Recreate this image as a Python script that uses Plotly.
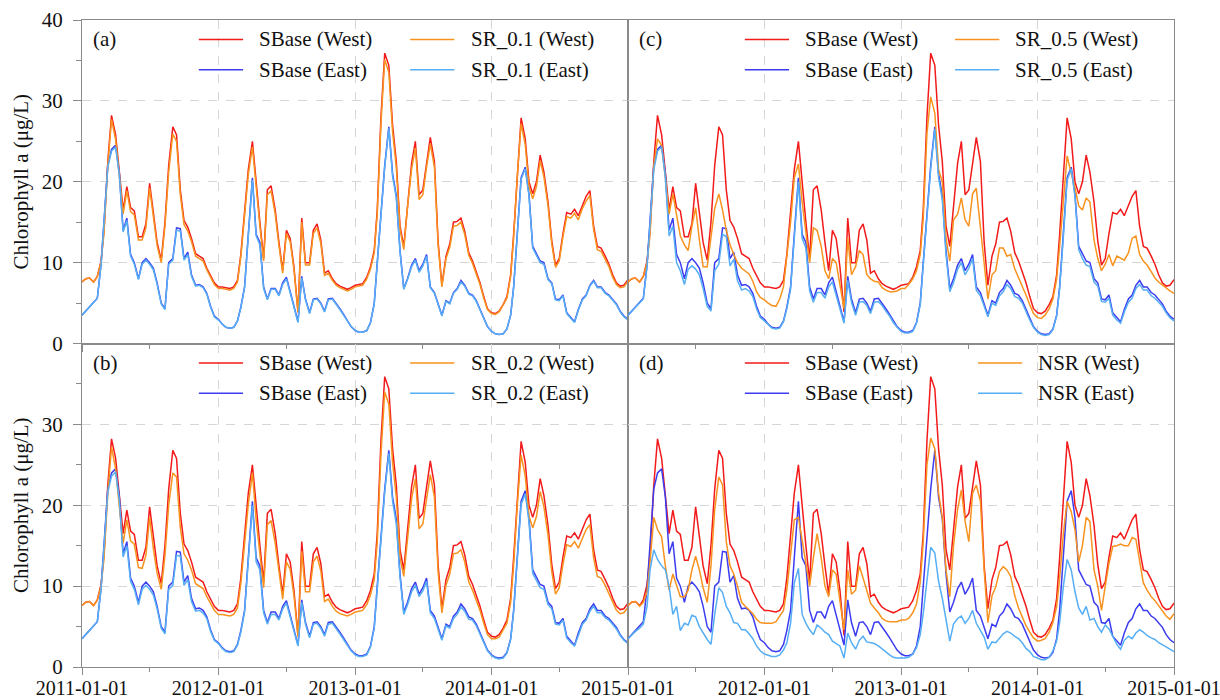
import plotly.graph_objects as go
from plotly.subplots import make_subplots

# sample dates: 1st, 11th, 21st of each month
dates = [f"{y}-{m:02d}-{d:02d}" for y in range(2011, 2015) for m in range(1, 13) for d in (1, 11, 21)] + ["2015-01-01"]

sbase_west = [
    7.6, 8.0, 8.1, 7.6, 8.3, 10.2, 14.0, 22.5, 28.2, 25.8, 21.2, 16.5,
    19.4, 16.8, 16.4, 13.2, 13.2, 14.8, 19.8, 15.8, 12.5, 10.3, 15.0, 22.0,
    26.8, 25.8, 19.0, 15.2, 14.4, 13.0, 11.1, 10.8, 10.5, 9.3, 8.3, 7.5,
    7.0, 7.0, 6.9, 6.8, 7.0, 7.8, 11.0, 16.0, 21.5, 25.0, 19.5, 15.0,
    10.5, 19.0, 19.5, 16.5, 12.5, 9.0, 14.0, 13.0, 9.5, 3.9, 15.5, 10.0,
    10.0, 14.0, 14.8, 12.8, 8.7, 9.0, 8.0, 7.4, 7.1, 6.9, 6.7, 6.9,
    7.2, 7.3, 7.4, 8.2, 9.5, 11.5, 16.5, 28.0, 35.9, 34.4, 27.0, 22.5,
    14.5, 12.0, 17.4, 22.3, 25.0, 18.4, 19.0, 22.5, 25.5, 22.5, 12.5, 7.2,
    10.8, 12.3, 15.0, 15.1, 15.5, 13.9, 11.2, 10.2, 8.9, 7.5, 5.8, 4.3,
    3.8, 3.7, 4.0, 4.8, 5.8, 8.5, 13.5, 21.5, 27.9, 25.3, 20.0, 18.5,
    20.0, 23.3, 21.2, 17.5, 12.7, 9.7, 10.5, 13.6, 16.2, 16.0, 16.6, 15.8,
    17.2, 18.2, 18.9, 14.5, 12.0, 11.8, 10.8, 9.8, 8.5, 7.5, 7.1, 7.2,
    7.9]

sbase_east = [
    3.5, 4.0, 4.5, 5.0, 5.6, 9.8, 15.0, 22.0, 24.0, 24.5, 21.0, 14.0,
    15.5, 11.0, 10.0, 8.0, 10.0, 10.5, 10.0, 9.3, 7.5, 5.0, 4.3, 10.0,
    10.5, 14.3, 14.2, 10.5, 11.3, 8.5, 7.2, 7.3, 7.0, 6.2, 4.6, 3.4,
    3.0, 2.4, 2.0, 1.9, 2.0, 2.8, 4.5, 7.0, 13.5, 20.5, 13.5, 12.5,
    7.0, 5.5, 6.8, 6.8, 6.0, 7.5, 8.2, 6.4, 4.4, 2.7, 8.3, 5.5,
    3.8, 5.5, 5.6, 5.0, 4.0, 5.5, 5.6, 5.0, 4.3, 3.6, 2.8, 2.1,
    1.6, 1.4, 1.4, 1.6, 2.6, 5.0, 10.0, 16.0, 22.0, 26.8, 21.0, 18.3,
    11.5, 6.8, 8.0, 9.7, 10.5, 9.0, 9.8, 11.0, 7.0, 6.3, 4.8, 3.5,
    5.3, 5.0, 6.3, 6.8, 7.8, 7.2, 6.2, 6.0, 5.3, 4.2, 3.1, 2.1,
    1.5, 1.2, 1.1, 1.2, 1.8, 3.5, 7.0, 13.5, 20.5, 21.8, 18.5, 12.0,
    11.0, 10.2, 10.0, 8.0, 7.5, 5.5, 5.4, 6.0, 3.8, 3.2, 2.7, 4.2,
    5.5, 6.0, 7.2, 7.8, 7.0, 7.0, 6.3, 6.0, 5.4, 4.9, 4.0, 3.4,
    3.0]

sr01_west = [
    7.6, 8.0, 8.1, 7.6, 8.3, 10.1, 13.8, 22.0, 27.7, 25.2, 20.7, 16.0,
    18.9, 16.3, 15.9, 12.8, 12.8, 14.3, 19.2, 15.3, 12.1, 10.0, 14.5, 21.2,
    25.9, 25.0, 18.4, 14.7, 13.9, 12.6, 10.8, 10.5, 10.2, 9.1, 8.1, 7.3,
    6.8, 6.8, 6.7, 6.6, 6.8, 7.6, 10.7, 15.5, 20.9, 24.3, 18.9, 14.5,
    10.2, 18.4, 18.9, 16.0, 12.1, 8.7, 13.6, 12.6, 9.2, 3.8, 15.0, 9.7,
    9.7, 13.6, 14.3, 12.4, 8.4, 8.7, 7.8, 7.2, 6.9, 6.7, 6.5, 6.7,
    7.0, 7.1, 7.2, 8.0, 9.2, 11.2, 16.0, 27.2, 35.1, 33.5, 26.2, 21.8,
    14.1, 11.6, 16.9, 21.6, 24.2, 17.8, 18.4, 21.8, 24.7, 21.8, 12.1, 7.0,
    10.5, 11.9, 14.5, 14.6, 15.0, 13.5, 10.9, 9.9, 8.6, 7.3, 5.6, 4.2,
    3.7, 3.6, 3.9, 4.7, 5.6, 8.3, 13.1, 20.9, 27.2, 24.6, 19.4, 17.9,
    19.4, 22.6, 20.6, 17.0, 12.3, 9.4, 10.2, 13.2, 15.7, 15.5, 16.1, 15.3,
    16.7, 17.6, 18.3, 14.1, 11.6, 11.4, 10.5, 9.5, 8.2, 7.3, 6.9, 7.0,
    7.7]

sr01_east = [
    3.5, 4.0, 4.5, 5.0, 5.6, 9.7, 14.9, 21.8, 23.8, 24.3, 20.8, 13.8,
    15.2, 10.8, 9.8, 7.9, 9.8, 10.3, 9.8, 9.1, 7.3, 4.9, 4.2, 9.8,
    10.3, 14.0, 13.9, 10.3, 11.0, 8.3, 7.1, 7.2, 6.9, 6.1, 4.5, 3.3,
    2.9, 2.4, 2.0, 1.9, 2.0, 2.8, 4.4, 6.9, 13.3, 20.2, 13.3, 12.2,
    6.8, 5.4, 6.7, 6.7, 5.9, 7.3, 8.0, 6.3, 4.3, 2.6, 8.1, 5.4,
    3.7, 5.4, 5.5, 4.9, 3.9, 5.4, 5.5, 4.9, 4.2, 3.5, 2.8, 2.1,
    1.6, 1.4, 1.4, 1.6, 2.6, 4.9, 9.9, 15.8, 21.8, 26.6, 20.7, 18.0,
    11.3, 6.7, 7.9, 9.5, 10.3, 8.8, 9.6, 10.8, 6.9, 6.2, 4.7, 3.4,
    5.2, 4.9, 6.2, 6.7, 7.6, 7.1, 6.1, 5.9, 5.2, 4.1, 3.0, 2.1,
    1.5, 1.2, 1.1, 1.2, 1.8, 3.5, 6.9, 13.3, 20.3, 21.6, 18.3, 11.8,
    10.8, 10.0, 9.8, 7.9, 7.4, 5.4, 5.3, 5.9, 3.7, 3.1, 2.6, 4.1,
    5.4, 5.9, 7.1, 7.7, 6.9, 6.9, 6.2, 5.9, 5.3, 4.8, 3.9, 3.3,
    2.9]

sr02_west = [
    7.6, 8.0, 8.1, 7.6, 8.3, 10.0, 13.5, 21.4, 27.2, 24.5, 19.8, 15.3,
    18.2, 15.6, 15.2, 12.3, 12.2, 13.8, 18.5, 14.6, 11.6, 9.6, 13.8, 20.0,
    24.0, 23.5, 17.3, 14.0, 13.2, 12.0, 10.3, 10.0, 9.7, 8.7, 7.8, 7.0,
    6.5, 6.5, 6.4, 6.3, 6.5, 7.3, 10.3, 15.0, 20.1, 24.0, 18.2, 14.0,
    9.8, 17.6, 18.1, 15.3, 11.6, 8.4, 13.0, 12.1, 8.9, 3.7, 14.3, 9.3,
    9.3, 13.0, 13.7, 11.9, 8.1, 8.4, 7.5, 6.9, 6.6, 6.4, 6.3, 6.5,
    6.8, 6.9, 7.0, 7.7, 8.9, 10.8, 15.4, 26.3, 34.0, 32.5, 25.3, 21.0,
    13.5, 11.2, 16.2, 20.8, 23.3, 17.1, 17.7, 21.0, 23.8, 21.0, 11.7, 6.7,
    10.1, 11.5, 14.0, 14.1, 14.5, 13.0, 10.5, 9.5, 8.3, 7.0, 5.4, 4.0,
    3.5, 3.5, 3.7, 4.5, 5.4, 8.0, 12.6, 20.2, 26.2, 23.6, 18.7, 17.2,
    18.6, 21.7, 19.8, 16.3, 11.8, 9.0, 9.8, 12.7, 15.1, 14.9, 15.5, 14.7,
    16.0, 17.0, 17.6, 13.5, 11.2, 11.0, 10.1, 9.1, 7.9, 7.0, 6.6, 6.7,
    7.4]

sr02_east = [
    3.5, 4.0, 4.5, 5.0, 5.6, 9.6, 14.7, 21.6, 23.6, 24.1, 20.6, 13.6,
    15.0, 10.6, 9.6, 7.7, 9.6, 10.1, 9.6, 8.9, 7.2, 4.8, 4.1, 9.6,
    10.1, 13.8, 13.7, 10.1, 10.8, 8.1, 6.9, 7.0, 6.7, 6.0, 4.4, 3.3,
    2.9, 2.3, 1.9, 1.8, 1.9, 2.7, 4.3, 6.8, 13.1, 20.0, 13.0, 12.0,
    6.7, 5.3, 6.5, 6.5, 5.8, 7.2, 7.9, 6.2, 4.2, 2.6, 8.0, 5.3,
    3.6, 5.3, 5.4, 4.8, 3.8, 5.3, 5.4, 4.8, 4.1, 3.4, 2.7, 2.0,
    1.5, 1.3, 1.3, 1.5, 2.5, 4.8, 9.7, 15.6, 21.6, 26.4, 20.5, 17.7,
    11.1, 6.5, 7.7, 9.3, 10.1, 8.7, 9.4, 10.6, 6.7, 6.0, 4.6, 3.3,
    5.1, 4.8, 6.0, 6.5, 7.4, 6.9, 5.9, 5.8, 5.1, 4.0, 3.0, 2.0,
    1.4, 1.1, 1.0, 1.1, 1.7, 3.4, 6.8, 13.1, 20.1, 21.4, 18.0, 11.6,
    10.6, 9.8, 9.6, 7.7, 7.2, 5.3, 5.2, 5.8, 3.6, 3.0, 2.6, 4.0,
    5.3, 5.8, 6.9, 7.5, 6.7, 6.7, 6.1, 5.8, 5.2, 4.7, 3.9, 3.3,
    2.9]

sr05_west = [
    7.6, 8.0, 8.1, 7.6, 8.3, 10.0, 13.5, 22.0, 25.3, 24.5, 20.5, 16.0,
    18.5, 16.0, 13.3, 12.2, 11.5, 14.5, 16.8, 12.8, 9.5, 9.5, 13.5, 16.7,
    18.5, 16.5, 14.0, 12.2, 11.0, 10.0, 9.3, 9.0, 8.6, 7.7, 6.4, 5.7,
    5.4, 5.0, 4.7, 4.6, 5.5, 7.0, 10.8, 15.0, 20.5, 22.2, 17.5, 14.0,
    10.0, 14.3, 14.0, 12.0, 9.0, 8.0, 10.5, 10.0, 7.5, 4.3, 13.0, 8.5,
    9.5, 11.5, 11.0, 8.5, 8.0, 7.7, 7.6, 6.9, 6.6, 6.4, 6.4, 6.5,
    6.8, 6.8, 7.3, 8.0, 9.0, 11.0, 15.5, 26.0, 30.5, 28.5, 21.5, 20.0,
    13.0, 10.2, 15.3, 16.0, 18.0, 15.3, 14.5, 18.5, 19.2, 14.3, 9.5, 5.5,
    8.5, 9.0, 11.8, 11.8, 10.8, 11.0, 9.2, 8.2, 7.2, 6.0, 4.8, 3.7,
    3.2, 3.1, 3.5, 4.3, 5.5, 8.0, 12.0, 17.5, 23.2, 21.0, 19.3, 17.0,
    16.5, 18.0, 17.5, 12.8, 10.5, 9.0, 9.8, 11.0, 9.6, 10.8, 10.5, 10.3,
    11.2, 13.0, 13.3, 11.0, 10.2, 9.7, 8.9, 8.1, 7.6, 7.2, 6.8, 6.5,
    6.2]

sr05_east = [
    3.5, 4.0, 4.5, 5.0, 5.5, 9.5, 14.6, 21.5, 23.8, 24.3, 20.5, 13.3,
    14.5, 10.0, 9.0, 7.3, 9.2, 9.6, 9.2, 8.5, 6.8, 4.6, 4.0, 9.0,
    9.8, 13.5, 13.2, 9.6, 10.4, 7.8, 6.6, 6.8, 6.5, 5.8, 4.3, 3.2,
    2.8, 2.3, 1.9, 1.8, 1.9, 2.7, 4.3, 6.7, 13.0, 20.0, 13.0, 11.8,
    6.5, 5.1, 6.3, 6.3, 5.6, 7.0, 7.6, 6.0, 4.1, 2.5, 7.8, 5.1,
    3.5, 5.1, 5.2, 4.7, 3.7, 5.1, 5.2, 4.7, 4.0, 3.4, 2.6, 2.0,
    1.5, 1.3, 1.3, 1.5, 2.5, 4.8, 9.7, 15.6, 21.6, 26.5, 20.5, 17.8,
    11.0, 6.4, 7.5, 9.2, 10.0, 8.5, 9.3, 10.5, 6.6, 5.9, 4.5, 3.3,
    5.0, 4.7, 5.9, 6.4, 7.3, 6.8, 5.8, 5.6, 5.0, 3.9, 2.9, 2.0,
    1.4, 1.1, 1.0, 1.1, 1.7, 3.4, 6.8, 13.2, 20.2, 21.6, 18.2, 11.6,
    10.5, 9.7, 9.5, 7.6, 7.1, 5.2, 5.1, 5.6, 3.5, 2.9, 2.5, 3.9,
    5.1, 5.6, 6.8, 7.3, 6.6, 6.6, 5.9, 5.6, 5.1, 4.6, 3.8, 3.2,
    2.8]

nsr_west = [
    7.6, 8.0, 8.1, 7.5, 8.0, 9.3, 13.0, 18.5, 17.0, 16.1, 12.5, 9.5,
    11.5, 10.0, 8.7, 8.7, 9.5, 12.0, 13.7, 12.0, 9.8, 8.0, 12.5, 19.5,
    23.5, 22.5, 15.5, 12.5, 11.5, 10.0, 8.0, 7.5, 7.0, 6.6, 5.9, 5.5,
    5.4, 5.4, 5.4, 5.6, 6.3, 7.0, 9.5, 13.5, 18.2, 18.5, 15.5, 12.5,
    10.0, 13.5, 16.5, 13.5, 10.0, 8.7, 12.0, 11.5, 8.5, 4.6, 12.0, 9.0,
    9.5, 12.5, 11.0, 9.5, 7.9, 7.3, 6.7, 6.0, 5.7, 5.6, 5.6, 5.6,
    5.8, 5.8, 6.0, 6.7, 7.8, 10.5, 15.5, 25.0, 28.3, 27.0, 21.5, 18.5,
    12.0, 8.7, 15.0, 19.5, 21.9, 18.0, 15.5, 21.5, 22.5, 20.5, 12.0, 5.5,
    8.8, 9.9, 11.8, 12.4, 12.0, 11.2, 8.8, 7.3, 6.2, 5.1, 4.3, 3.6,
    3.2, 3.3, 3.5, 4.3, 5.5, 7.5, 11.0, 16.5, 20.5, 19.2, 17.0, 13.0,
    15.0, 18.5, 18.0, 12.0, 10.0, 7.0, 10.0, 12.8, 14.9, 15.0, 15.2, 15.0,
    15.0, 16.0, 15.8, 12.8, 10.4, 9.5, 8.7, 8.2, 7.6, 7.0, 6.3, 5.9,
    6.6]

nsr_east = [
    3.5, 4.0, 4.4, 4.8, 5.3, 7.5, 12.0, 14.5, 13.3, 12.5, 12.0, 10.0,
    6.5, 7.5, 4.5, 5.4, 5.2, 6.4, 6.2, 5.0, 4.2, 3.4, 2.8, 6.5,
    9.8, 9.2, 7.5, 6.7, 5.5, 5.4, 4.6, 4.6, 4.1, 3.5, 2.6, 2.0,
    1.6, 1.4, 1.3, 1.3, 1.5, 2.1, 3.0, 5.4, 10.4, 12.2, 6.5, 5.4,
    4.6, 4.0, 5.2, 4.8, 4.3, 4.0, 3.2, 2.9, 2.6, 1.1, 4.2, 3.0,
    2.2, 3.3, 3.8, 3.1, 3.0, 2.9, 2.6, 2.2, 1.8, 1.5, 1.2, 1.1,
    1.1, 1.1, 1.2, 1.6, 2.4, 4.0, 6.6, 10.8, 14.8, 14.1, 10.6, 8.5,
    5.6, 3.2, 5.3, 6.0, 6.3, 5.4, 6.0, 7.0, 5.4, 4.6, 3.7, 2.2,
    3.1, 3.0, 3.6, 4.1, 4.4, 4.2, 3.8, 3.5, 3.0, 2.3, 1.9, 1.3,
    1.1, 0.9, 0.9, 1.2, 2.0, 3.2, 5.5, 10.0, 13.3, 12.0, 9.3, 7.3,
    6.5, 7.5, 5.8, 6.0, 5.0, 4.3, 5.2, 4.7, 3.8, 2.8, 2.2, 3.3,
    3.8, 3.5, 4.2, 4.6, 4.3, 3.9, 3.6, 3.4, 3.0, 2.8, 2.5, 2.2,
    1.9]

year_ticks = ["2011-01-01", "2012-01-01", "2013-01-01", "2014-01-01", "2015-01-01"]
half_ticks = ["2011-07-01", "2012-07-01", "2013-07-01", "2014-07-01"]
y_ticks_top = [0, 10, 20, 30, 40]
y_ticks_bottom = [0, 10, 20, 30]

FONT = "Liberation Serif"
TXT = "#111111"
C_W_BASE = "#f21a1a"
C_E_BASE = "#3c3cf0"
C_W_SCN = "#f7931e"
C_E_SCN = "#56aef5"
FRAME = "#8a8a8a"
GRID = "#d6d6d6"

fig = make_subplots(rows=2, cols=2, horizontal_spacing=0, vertical_spacing=0)

# (row, col, axis index, panel label, scenario name, west, east, legend col-2 x)
panels = [
    (1, 1, 1, "(a)", "SR_0.1", sr01_west, sr01_east, 0.601),
    (2, 1, 3, "(b)", "SR_0.2", sr02_west, sr02_east, 0.601),
    (1, 2, 2, "(c)", "SR_0.5", sr05_west, sr05_east, 0.599),
    (2, 2, 4, "(d)", "NSR", nsr_west, nsr_east, 0.641),
]

shapes = []
annotations = []
for row, col, idx, label, scn, west, east, lx2 in panels:
    series = [
        ("SBase (West)", sbase_west, C_W_BASE),
        ("SBase (East)", sbase_east, C_E_BASE),
        (f"{scn} (West)", west, C_W_SCN),
        (f"{scn} (East)", east, C_E_SCN),
    ]
    for name, vals, color in series:
        fig.add_trace(go.Scatter(x=dates, y=vals, mode="lines", name=name,
                                 line=dict(color=color, width=1.5),
                                 showlegend=False), row=row, col=col)
    xr = "x domain" if idx == 1 else f"x{idx} domain"
    yr = "y domain" if idx == 1 else f"y{idx} domain"
    rows_y = [0.94, 0.846]
    pos = [(0.214, rows_y[0]), (0.214, rows_y[1]), (lx2, rows_y[0]), (lx2, rows_y[1])]
    for (name, _, color), (lx, ly) in zip(series, pos):
        shapes.append(dict(type="line", xref=xr, yref=yr, x0=lx, x1=lx + 0.081,
                           y0=ly, y1=ly, line=dict(color=color, width=1.5)))
        annotations.append(dict(xref=xr, yref=yr, x=lx + 0.107, y=ly, text=name,
                                showarrow=False, xanchor="left", yanchor="middle",
                                font=dict(family=FONT, size=21, color=TXT)))
    annotations.append(dict(xref=xr, yref=yr, x=0.016, y=rows_y[0], text=label,
                            showarrow=False, xanchor="left", yanchor="middle",
                            font=dict(family=FONT, size=21, color=TXT)))

common_x = dict(type="date", range=["2011-01-01", "2015-01-01"], automargin=False,
                showline=True, mirror=True, linecolor=FRAME, linewidth=1.2,
                showgrid=True, gridcolor=GRID, griddash="dash", gridwidth=1,
                ticks="outside", ticklen=7, tickcolor=FRAME, tickwidth=1.2,
                tickformat="%Y-%m-%d", zeroline=False, ticklabelstandoff=-4,
                ticklabeloverflow="allow",
                tickfont=dict(family=FONT, size=20, color=TXT),
                minor=dict(tickvals=half_ticks, ticks="outside", ticklen=4,
                           tickcolor=FRAME, showgrid=False))
common_y = dict(range=[0, 40], showline=True, mirror=True, linecolor=FRAME,
                linewidth=1.2, showgrid=True, gridcolor=GRID, griddash="dash",
                gridwidth=1, zeroline=False, automargin=False,
                tickfont=dict(family=FONT, size=21, color=TXT))

for row, col, idx, *_ in panels:
    xa = dict(common_x)
    ya = dict(common_y)
    if row == 1:
        xa.update(tickvals=year_ticks, showticklabels=False)
    elif col == 1:
        xa.update(tickvals=year_ticks, showticklabels=True)
    else:
        xa.update(tickvals=year_ticks[1:], showticklabels=True)
    ya.update(tickvals=y_ticks_top if row == 1 else y_ticks_bottom)
    if col == 1:
        ya.update(ticks="outside", ticklen=8, tickcolor=FRAME, tickwidth=1.2,
                  showticklabels=True, ticklabelstandoff=6,
                  minor=dict(dtick=5, ticks="outside", ticklen=5, tickcolor=FRAME),
                  title=dict(text="Chlorophyll a (μg/L)", standoff=7,
                             font=dict(family=FONT, size=21, color=TXT)))
    else:
        ya.update(ticks="", showticklabels=False)
    fig.update_xaxes(xa, row=row, col=col)
    fig.update_yaxes(ya, row=row, col=col)

fig.update_layout(width=1220, height=700,
                  margin=dict(l=82, r=46, t=20, b=33),
                  paper_bgcolor="white", plot_bgcolor="white",
                  font=dict(family=FONT, color=TXT),
                  shapes=shapes, annotations=annotations,
                  showlegend=False)

fig.write_html("out.html")
